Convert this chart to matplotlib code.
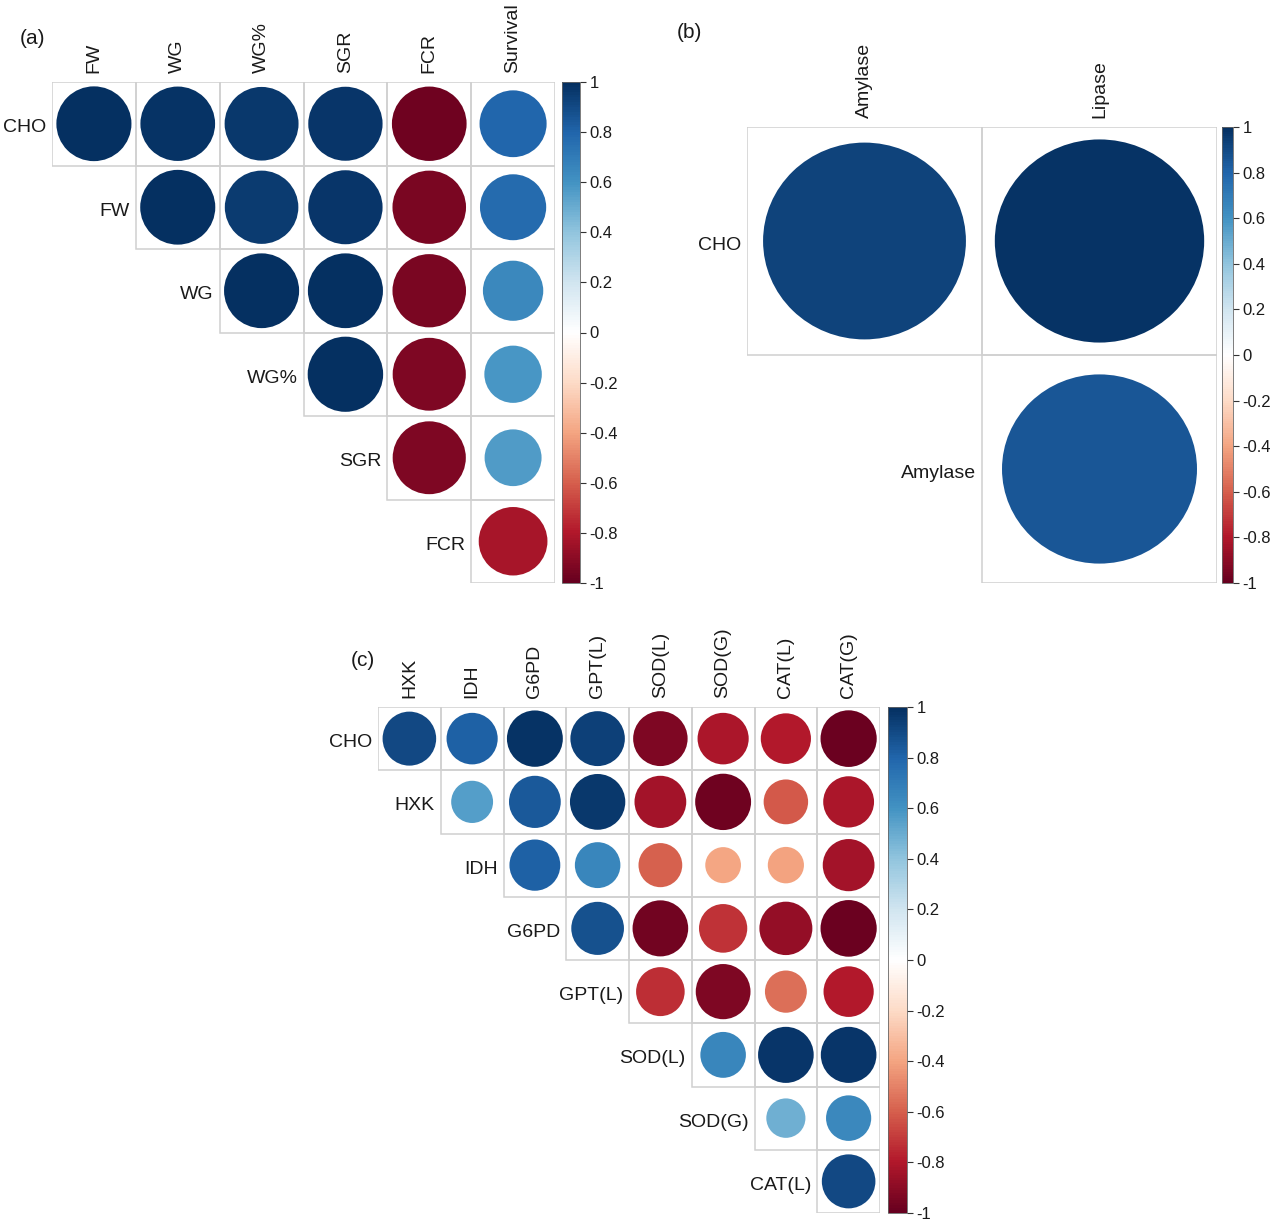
import numpy as np
import matplotlib
matplotlib.use('Agg')
import matplotlib.pyplot as plt
from matplotlib.colors import LinearSegmentedColormap, Normalize
from matplotlib.patches import Ellipse, Rectangle
from matplotlib.cm import ScalarMappable

plt.rcParams['font.family'] = ['Liberation Sans', 'DejaVu Sans']

# panel (a)
a_rows = ['CHO', 'FW', 'WG', 'WG%', 'SGR', 'FCR']
a_cols = ['FW', 'WG', 'WG%', 'SGR', 'FCR', 'Survival']
a_vals = [[0.99, 0.98, 0.96, 0.97, -0.98, 0.79],
          [0.99, 0.95, 0.97, -0.95, 0.77],
          [0.99, 0.99, -0.95, 0.64],
          [1.00, -0.94, 0.58],
          [-0.94, 0.57],
          [-0.83]]

# panel (b)
b_rows = ['CHO', 'Amylase']
b_cols = ['Amylase', 'Lipase']
b_vals = [[0.92, 0.98],
          [0.85]]

# panel (c)
c_rows = ['CHO', 'HXK', 'IDH', 'G6PD', 'GPT(L)', 'SOD(L)', 'SOD(G)', 'CAT(L)']
c_cols = ['HXK', 'IDH', 'G6PD', 'GPT(L)', 'SOD(L)', 'SOD(G)', 'CAT(L)', 'CAT(G)']
c_vals = [[0.90, 0.82, 0.98, 0.93, -0.93, -0.82, -0.79, -0.99],
          [0.55, 0.84, 0.96, -0.84, -0.98, -0.62, -0.81],
          [0.81, 0.65, -0.60, -0.40, -0.41, -0.84],
          [0.87, -0.97, -0.73, -0.88, -0.99],
          [-0.74, -0.94, -0.55, -0.79],
          [0.65, 0.97, 0.97],
          [0.48, 0.64],
          [0.90]]

rdbu = ['#67001F', '#B2182B', '#D6604D', '#F4A582', '#FDDBC7', '#FFFFFF',
        '#D1E5F0', '#92C5DE', '#4393C3', '#2166AC', '#053061']
cmap = LinearSegmentedColormap.from_list('corr', rdbu, N=200)
norm = Normalize(-1, 1)

W, H = 1274, 1221
fig = plt.figure(figsize=(W / 100, H / 100), dpi=100)
TXT = '#1a1a1a'
GRID = '#d0d0d0'


def px_axes(x0, y0, x1, y1):
    return fig.add_axes([x0 / W, 1 - y1 / H, (x1 - x0) / W, (y1 - y0) / H])


def corr_panel(box, cbox, rows, cols, vals, fs=14, lab_pad=9):
    ax = px_axes(*box)
    n_r, n_c = len(rows), len(cols)
    ax.set_xlim(0, n_c)
    ax.set_ylim(n_r, 0)
    ax.axis('off')
    for i, row in enumerate(vals):
        start = n_c - len(row)
        for k, v in enumerate(row):
            j = start + k
            ax.add_patch(Rectangle((j, i), 1, 1, facecolor='none',
                                   edgecolor=GRID, lw=1.1, zorder=1))
            d = 0.9 * np.sqrt(abs(v))
            ax.add_patch(Ellipse((j + 0.5, i + 0.5), d, d,
                                 facecolor=cmap(norm(v)), edgecolor='none', zorder=2))
        ax.annotate(rows[i], (start, i + 0.5), xytext=(-6, -4),
                    textcoords='offset pixels', ha='right', va='center',
                    fontsize=fs, color=TXT, annotation_clip=False)
    for j, c in enumerate(cols):
        ax.annotate(c, (j + 0.5, 0), xytext=(0, lab_pad),
                    textcoords='offset pixels', ha='center', va='bottom',
                    rotation=90, fontsize=fs, color=TXT, annotation_clip=False)

    cax = px_axes(*cbox)
    cb = fig.colorbar(ScalarMappable(norm=norm, cmap=cmap), cax=cax)
    ticks = np.round(np.linspace(-1, 1, 11), 1)
    cb.set_ticks(ticks)
    cb.set_ticklabels(['{:g}'.format(t) for t in ticks])
    cb.outline.set_linewidth(0.6)
    cb.outline.set_edgecolor('#666666')
    cax.tick_params(length=4, width=0.8, color='#333333', labelsize=12,
                    labelcolor=TXT, pad=3)
    return ax


corr_panel((52, 82, 555, 583), (562, 82, 580, 583), a_rows, a_cols, a_vals)
corr_panel((747, 127, 1217, 583), (1222, 127, 1233, 583), b_rows, b_cols, b_vals)
corr_panel((378, 707, 880, 1213), (888, 707, 907, 1213), c_rows, c_cols, c_vals)

fig.text(20 / W, 1 - 38 / H, '(a)', fontsize=15, color=TXT, va='center')
fig.text(677 / W, 1 - 33 / H, '(b)', fontsize=15, color=TXT, va='center')
fig.text(351 / W, 1 - 661 / H, '(c)', fontsize=15, color=TXT, va='center')

fig.savefig('out.png', dpi=100, facecolor='white')
